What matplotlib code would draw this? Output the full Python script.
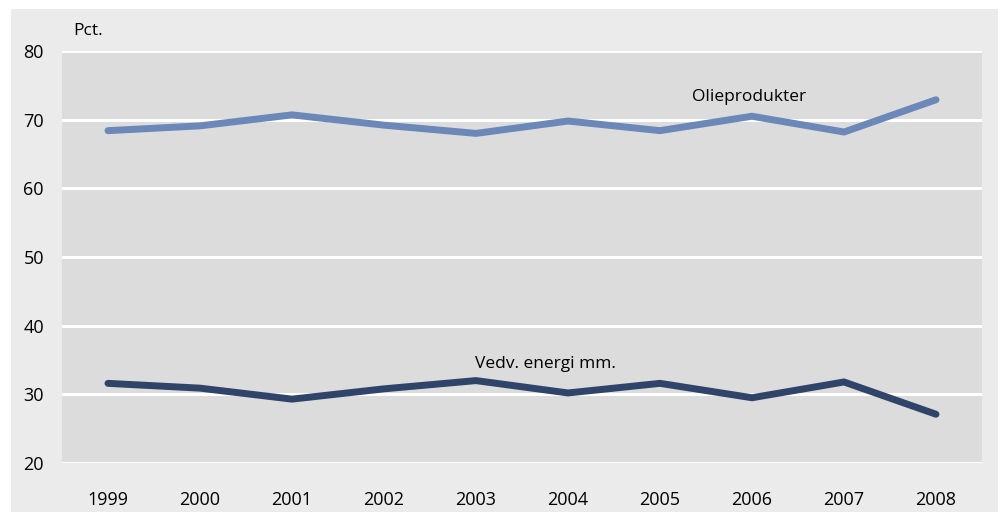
import numpy as np
import matplotlib.pyplot as plt
from matplotlib.patches import Rectangle

# data
years = ['1999', '2000', '2001', '2002', '2003', '2004', '2005', '2006', '2007', '2008']
olie = [68.4, 69.1, 70.7, 69.2, 68.0, 69.8, 68.4, 70.5, 68.2, 72.9]
vedv = [31.6, 30.9, 29.3, 30.8, 32.0, 30.2, 31.6, 29.5, 31.8, 27.1]

plt.rcParams['font.family'] = ['Open Sans', 'DejaVu Sans']

W, H = 998, 512
fig = plt.figure(figsize=(W / 100, H / 100), dpi=100)
fig.patch.set_facecolor('white')
# light grey panel behind everything
bg = Rectangle((11 / W, 0), 1 - 11 / W, 1 - 9 / H,
               transform=fig.transFigure, facecolor='#ebebeb',
               edgecolor='none', zorder=-10)
fig.add_artist(bg)

ax = fig.add_axes([62 / W, 1 - 463 / H, (982 - 62) / W, (463 - 51) / H])
ax.set_facecolor('#dcdcdc')

x = np.arange(len(years))
ax.plot(x, olie, color='#6b88b8', lw=5, solid_capstyle='round', solid_joinstyle='miter', zorder=3)
ax.plot(x, vedv, color='#2f4468', lw=5, solid_capstyle='round', solid_joinstyle='miter', zorder=3)

ax.set_xlim(-0.5, len(years) - 0.5)
ax.set_ylim(20, 80)
ax.set_yticks(range(20, 81, 10))
ax.set_xticks(x)
ax.set_xticklabels(years)
ax.grid(axis='y', color='white', lw=2.2, zorder=1)
ax.set_axisbelow(True)
for s in ax.spines.values():
    s.set_visible(False)
ax.tick_params(length=0, labelsize=13, colors='black')
ax.tick_params(axis='y', pad=13)
ax.tick_params(axis='x', pad=20)

ax.text(6.97, 72.7, 'Olieprodukter', fontsize=12.5, ha='center', va='baseline')
ax.text(4.76, 33.9, 'Vedv. energi mm.', fontsize=12.5, ha='center', va='baseline')
fig.text(73 / W, 1 - 35 / H, 'Pct.', fontsize=12.5, ha='left', va='baseline')

fig.savefig('out.png', dpi=100, facecolor=fig.get_facecolor())
